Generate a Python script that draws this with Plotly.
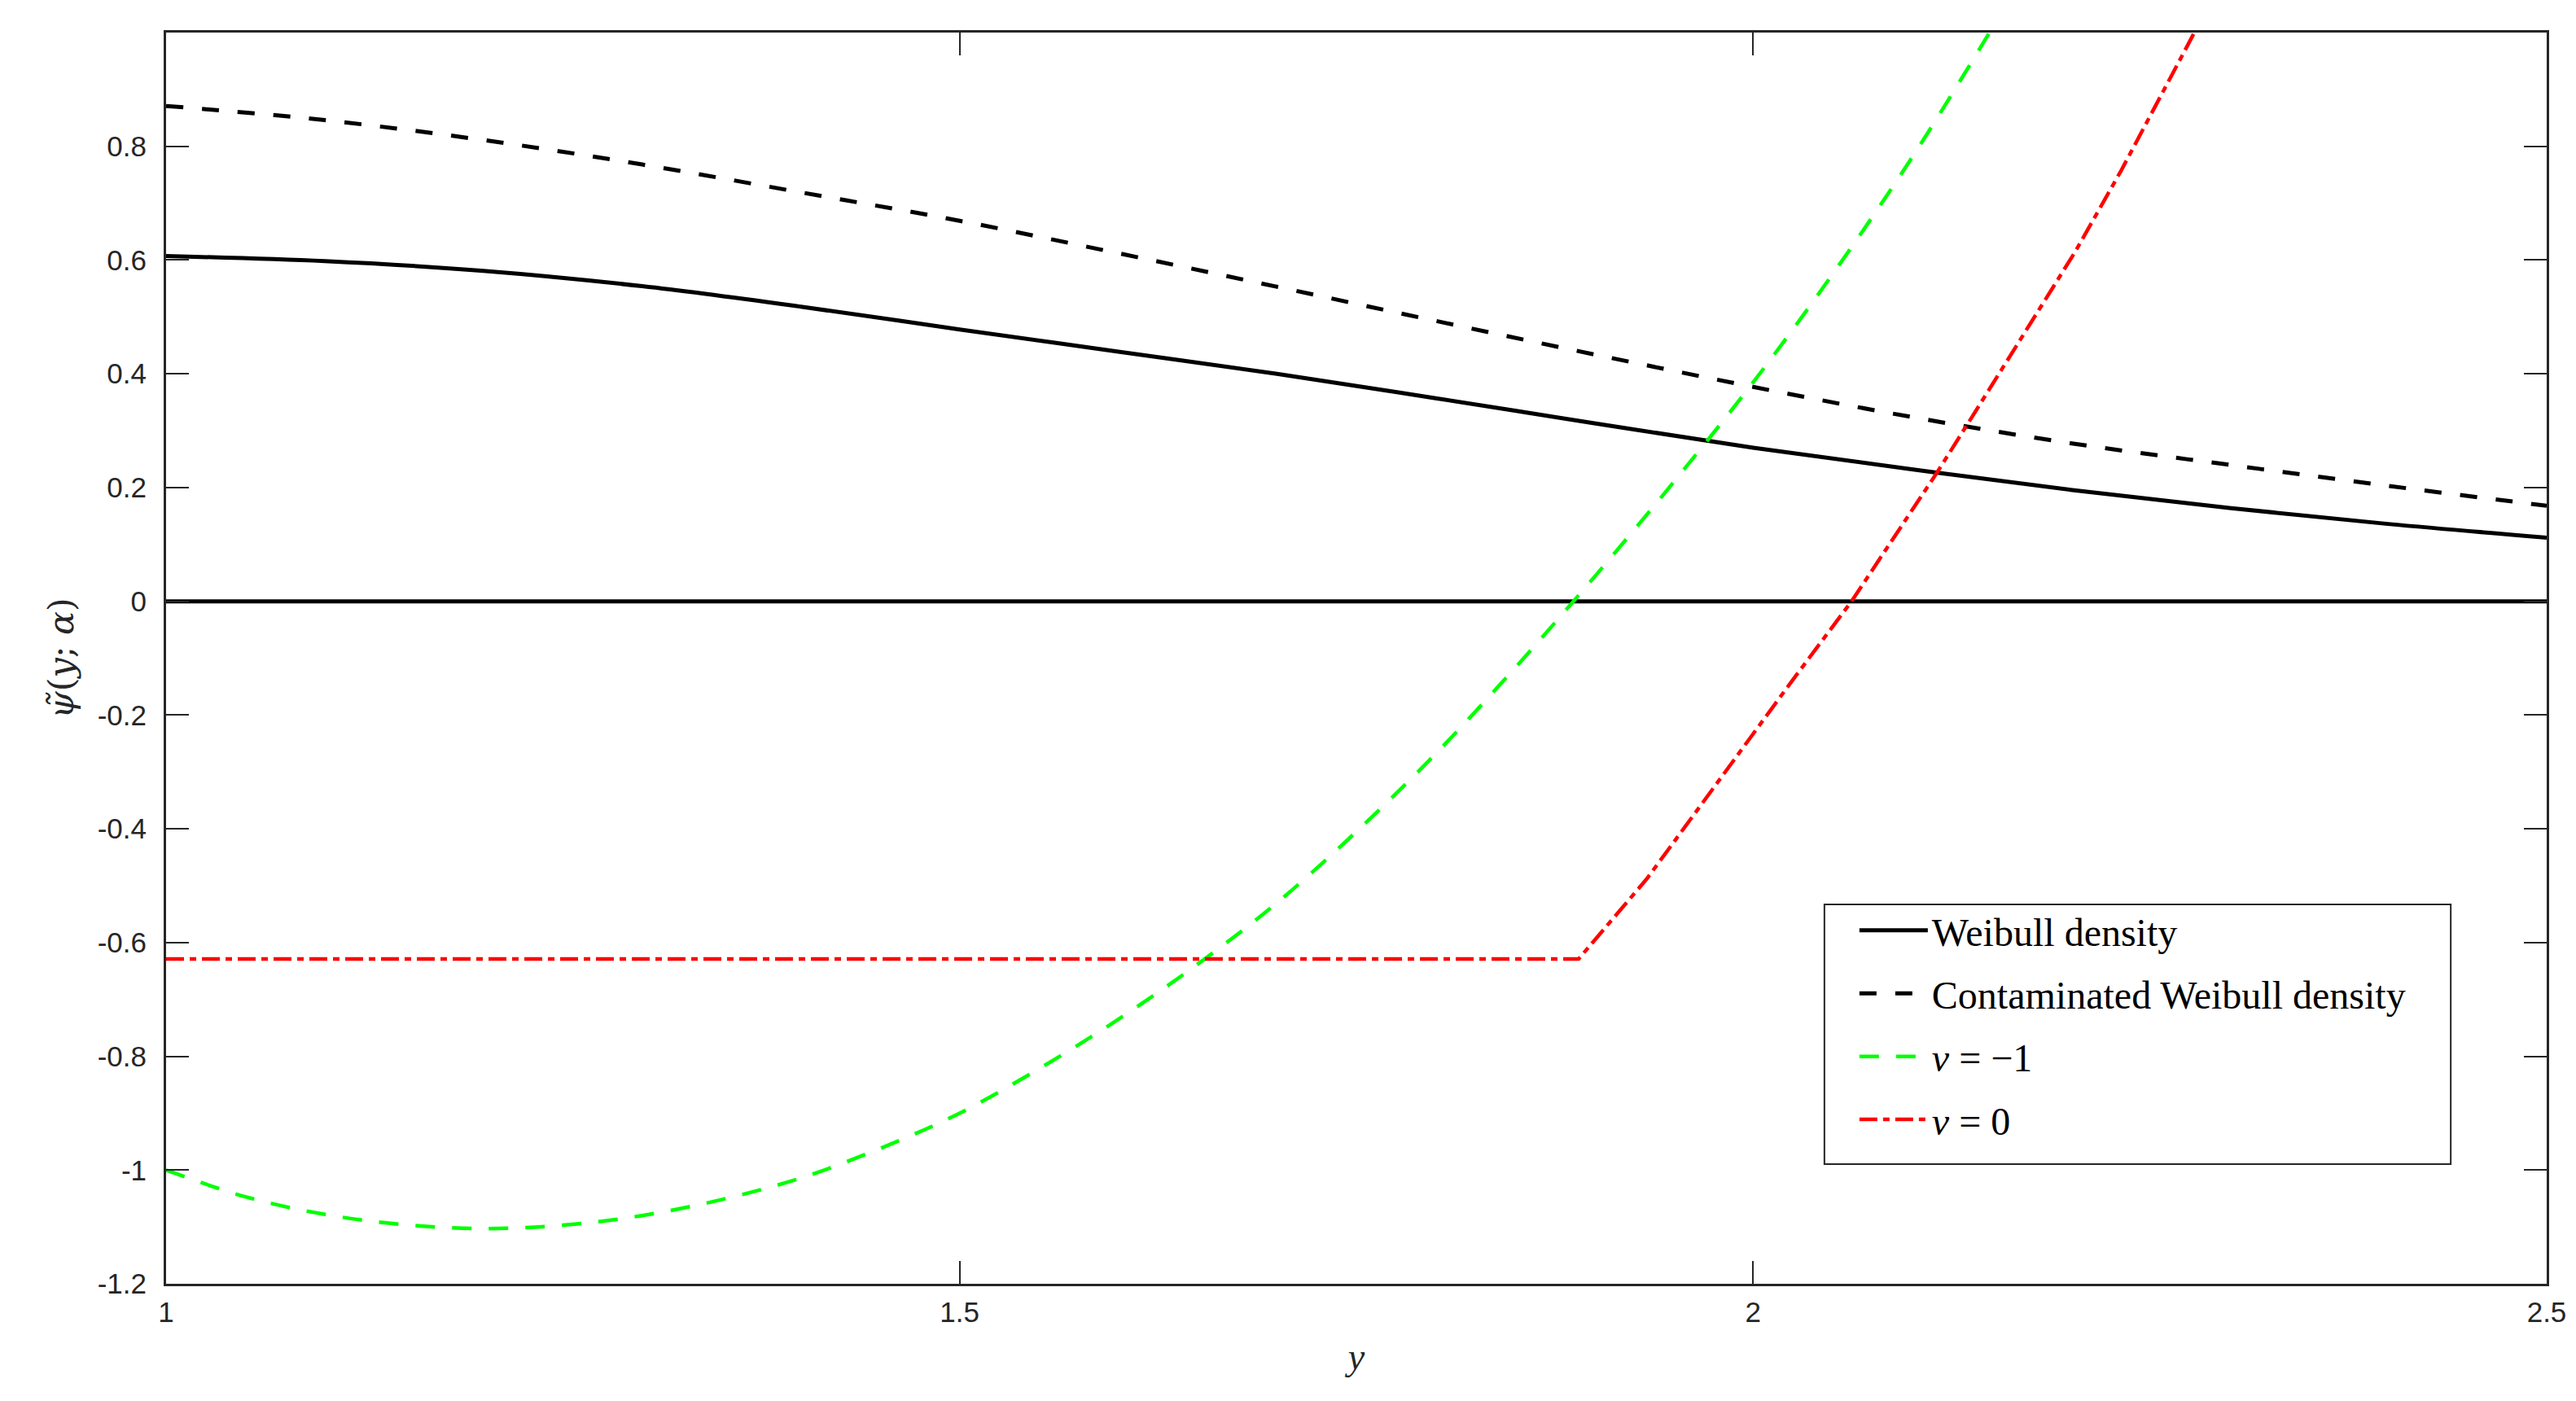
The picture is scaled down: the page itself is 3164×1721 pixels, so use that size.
import plotly.graph_objects as go

# ---------------- data ----------------
y_grid = [1.0, 1.1, 1.2, 1.3, 1.4, 1.5, 1.6, 1.7, 1.8, 1.9, 2.0, 2.1, 2.2, 2.3, 2.4, 2.5]
weibull = [0.607, 0.598, 0.581, 0.554, 0.518, 0.478, 0.439, 0.400, 0.357, 0.313,
           0.270, 0.232, 0.196, 0.164, 0.136, 0.112]
contaminated = [0.871, 0.846, 0.811, 0.768, 0.719, 0.669, 0.612, 0.553, 0.493, 0.434,
                0.377, 0.324, 0.278, 0.240, 0.203, 0.168]

green_x = [1.0, 1.05, 1.1, 1.15, 1.2, 1.25, 1.3, 1.35, 1.4, 1.45, 1.5, 1.55, 1.6, 1.65,
           1.7, 1.75, 1.8, 1.85, 1.9, 1.95, 2.0, 2.05, 2.1, 2.15, 2.2]
green_v = [-1.000, -1.047, -1.078, -1.096, -1.103, -1.097, -1.080, -1.052, -1.014, -0.962,
           -0.900, -0.822, -0.735, -0.638, -0.530, -0.405, -0.268, -0.117, 0.043, 0.210,
           0.385, 0.575, 0.780, 1.005, 1.240]

red_x = [1.0, 1.89, 1.933, 1.979, 2.025, 2.062, 2.116, 2.139, 2.203, 2.232, 2.278, 2.32]
red_v = [-0.629, -0.629, -0.488, -0.313, -0.138, 0.0, 0.227, 0.329, 0.615, 0.758, 1.0, 1.23]

zero_x = [1.0, 2.5]
zero_v = [0.0, 0.0]

x_ticks = [1, 1.5, 2, 2.5]
x_ticktext = ["1", "1.5", "2", "2.5"]
y_ticks = [-1.2, -1.0, -0.8, -0.6, -0.4, -0.2, 0.0, 0.2, 0.4, 0.6, 0.8]
y_ticktext = ["-1.2", "-1", "-0.8", "-0.6", "-0.4", "-0.2", "0", "0.2", "0.4", "0.6", "0.8"]

names = ["Weibull density", "Contaminated Weibull density", "<i>v</i> = \u22121", "<i>v</i> = 0"]

# ---------------- figure ----------------
AX = "#262626"
fig = go.Figure()

fig.add_trace(go.Scatter(x=zero_x, y=zero_v, mode="lines", showlegend=False,
                         line=dict(color="black", width=5), hoverinfo="skip"))
fig.add_trace(go.Scatter(x=y_grid, y=weibull, mode="lines", name=names[0], legendgroup="a",
                         line=dict(color="black", width=5, shape="spline")))
fig.add_trace(go.Scatter(x=y_grid, y=contaminated, mode="lines", name=names[1], legendgroup="b",
                         line=dict(color="black", width=5, dash="21px,23px", shape="spline")))
fig.add_trace(go.Scatter(x=green_x, y=green_v, mode="lines", name=names[2], legendgroup="c",
                         line=dict(color="#00ff00", width=4.5, dash="24px,21px", shape="spline")))
fig.add_trace(go.Scatter(x=red_x, y=red_v, mode="lines", name=names[3], legendgroup="d",
                         line=dict(color="#ff0000", width=4.5, dash="22px,7px,8px,7px")))

axis_common = dict(
    showline=True, linecolor=AX, linewidth=3, mirror="ticks",
    ticks="inside", ticklen=28, tickwidth=2, tickcolor=AX,
    showgrid=False, zeroline=False,
    tickfont=dict(family="Liberation Sans, Arial, sans-serif", size=35, color=AX),
)

fig.update_xaxes(range=[1, 2.5], tickvals=x_ticks, ticktext=x_ticktext,
                 ticklabelstandoff=2,
                 title=dict(text="<i>y</i>", standoff=20,
                            font=dict(family="Liberation Serif, serif", size=46, color=AX)),
                 **axis_common)
fig.update_yaxes(range=[-1.2, 1.0], tickvals=y_ticks, ticktext=y_ticktext,
                 ticklabelstandoff=14,
                 title=dict(text="<i>\u03c8\u0303</i>(<i>y</i>; <i>\u03b1</i>)", standoff=16,
                            font=dict(family="DejaVu Serif, serif", size=43, color=AX)),
                 **axis_common)

# legend frame (drawn as a white box under the legend entries)
fig.add_shape(type="rect", xref="paper", yref="paper",
              x0=0.6966, x1=0.9597, y0=0.0956, y1=0.3032,
              fillcolor="white", line=dict(color=AX, width=2), layer="above")

fig.update_layout(
    width=3164, height=1721, autosize=False,
    margin=dict(l=196, r=44, t=32, b=152),
    paper_bgcolor="white", plot_bgcolor="white",
    legend=dict(x=0.6966, y=0.307, xanchor="left", yanchor="top",
                bgcolor="rgba(0,0,0,0)", borderwidth=0,
                font=dict(family="Liberation Serif, serif", size=48, color="black"),
                tracegroupgap=12, itemwidth=84, indentation=38),
)

fig.write_html("out.html")
